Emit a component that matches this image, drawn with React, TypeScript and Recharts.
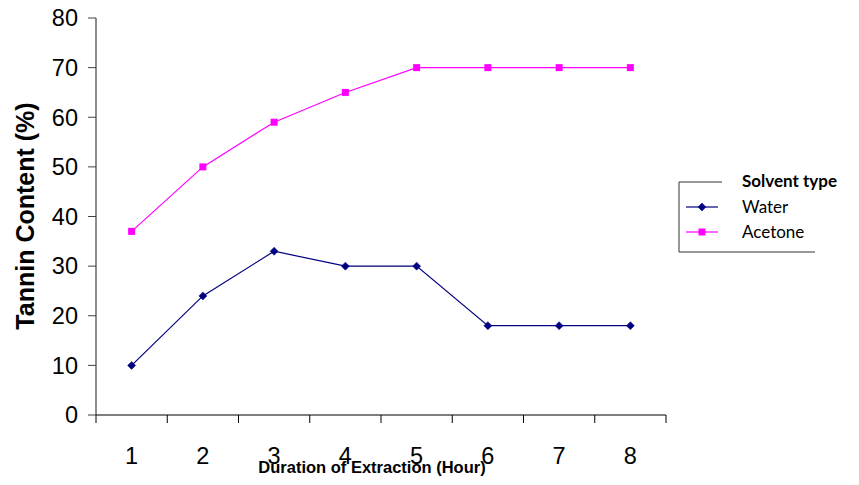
import { LineChart, Line, XAxis, YAxis, Legend } from 'recharts'

// Tannin content (%) by extraction duration
const hours = [1, 2, 3, 4, 5, 6, 7, 8]
const water = [10, 24, 33, 30, 30, 18, 18, 18]
const acetone = [37, 50, 59, 65, 70, 70, 70, 70]
const xTicks = [0.5, 1, 1.5, 2, 2.5, 3, 3.5, 4, 4.5, 5, 5.5, 6, 6.5, 7, 7.5, 8, 8.5]
const yTicks = [0, 10, 20, 30, 40, 50, 60, 70, 80]

const data = hours.map((h, i) => ({ hour: h, water: water[i], acetone: acetone[i] }))

const AX = '"Liberation Sans", Arial, sans-serif'
const LG = 'Lato, "Open Sans", sans-serif'
const NAVY = '#000080'
const PINK = '#ff00ff'

const Diamond = (p: any) => {
  const { cx, cy } = p
  if (cx == null || cy == null) return null
  return <polygon points={`${cx},${cy - 4} ${cx + 4},${cy} ${cx},${cy + 4} ${cx - 4},${cy}`} fill={NAVY} stroke={NAVY} strokeWidth={0.5} />
}

const Square = (p: any) => {
  const { cx, cy } = p
  if (cx == null || cy == null) return null
  return <rect x={cx - 3.5} y={cy - 3.5} width={7} height={7} fill={PINK} />
}

const XTick = (p: any) => {
  const { x, y, payload } = p
  const v = payload.value
  if (Number.isInteger(v)) {
    return <text x={x} y={y + 49} textAnchor="middle" fontSize={23.5} fontFamily={AX} fill="#000">{v}</text>
  }
  return <line x1={x} x2={x} y1={y} y2={y + 8} stroke="#000" />
}

const XLabel = () => (
  <text x={372} y={473} textAnchor="middle" fontSize={16.5} fontWeight="bold" fontFamily={AX} fill="#000">
    Duration of Extraction (Hour)
  </text>
)

const YLabel = () => (
  <text x={25} y={216} dy="0.36em" textAnchor="middle" transform="rotate(-90, 25, 216)"
    fontSize={25} fontWeight="bold" fontFamily={AX} fill="#000">Tannin Content (%)</text>
)

const LegendBox = () => (
  <svg width={184} height={100} style={{ display: 'block' }}>
    <line x1={4} y1={17} x2={47} y2={17} stroke="#333" />
    <line x1={4} y1={17} x2={4} y2={87} stroke="#333" />
    <line x1={4} y1={87} x2={140} y2={87} stroke="#333" />
    <text x={67} y={16} dy="0.35em" fontSize={17} fontWeight="bold" fontFamily={LG} fill="#000">Solvent type</text>
    <line x1={11} x2={43} y1={42} y2={42} stroke={NAVY} strokeWidth={1.2} />
    <Diamond cx={27} cy={42} />
    <text x={67} y={42} dy="0.35em" fontSize={17} fontFamily={LG} fill="#000">Water</text>
    <line x1={11} x2={43} y1={67} y2={67} stroke={PINK} strokeWidth={1.2} />
    <Square cx={27} cy={67} />
    <text x={67} y={67} dy="0.35em" fontSize={17} fontFamily={LG} fill="#000">Acetone</text>
  </svg>
)

export default function App() {
  return (
    <div style={{ position: 'absolute', left: 0, top: 0, width: 859, height: 485, background: '#fff' }}>
      <LineChart width={859} height={485} data={data} margin={{ top: 18, right: 193, bottom: 0, left: 0 }}>
        <XAxis dataKey="hour" type="number" domain={[0.5, 8.5]} ticks={xTicks} interval={0}
          height={70} tickSize={0} tickMargin={0} tickLine={false} tick={<XTick />}
          axisLine={{ stroke: '#000', strokeWidth: 1.2 }} label={<XLabel />} />
        <XAxis xAxisId="t" orientation="top" type="number" domain={[0.5, 8.5]} height={0}
          tick={false} tickLine={false} axisLine={{ stroke: '#9a9a9a', strokeWidth: 1.5 }} />
        <YAxis domain={[0, 80]} ticks={yTicks} width={96} tickSize={8} tickMargin={10}
          interval={0} axisLine={{ stroke: '#404040', strokeWidth: 1.2 }} tickLine={{ stroke: '#404040' }}
          tick={{ fontSize: 23.5, fontFamily: AX, fill: '#000' }} label={<YLabel />} />
        <YAxis yAxisId="r" orientation="right" domain={[0, 80]} width={0}
          tick={false} tickLine={false} axisLine={{ stroke: '#9a9a9a', strokeWidth: 1.5 }} />
        <Legend layout="vertical" align="center" verticalAlign="middle" content={<LegendBox />}
          wrapperStyle={{ position: 'absolute', left: 675, top: 165, width: 184 }} />
        <Line dataKey="water" name="Water" stroke={NAVY} strokeWidth={1.2} dot={<Diamond />} activeDot={false} isAnimationActive={false} />
        <Line dataKey="acetone" name="Acetone" stroke={PINK} strokeWidth={1.2} dot={<Square />} activeDot={false} isAnimationActive={false} />
      </LineChart>
    </div>
  )
}
